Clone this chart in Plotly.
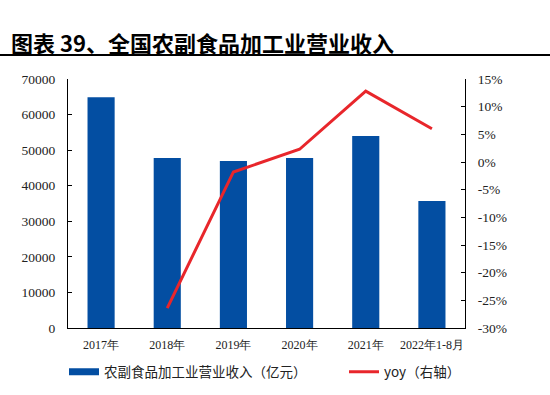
import plotly.graph_objects as go

categories = ["2017年", "2018年", "2019年", "2020年", "2021年", "2022年1-8月"]
revenue = [64900, 47800, 46950, 47800, 54000, 35700]
yoy_x = ["2018年", "2019年", "2020年", "2021年", "2022年1-8月"]
yoy = [-26.4, -1.8, 2.3, 12.8, 6.0]

left_ticks = list(range(0, 70001, 10000))
left_labels = [str(v) for v in left_ticks]
right_ticks = list(range(-30, 16, 5))
right_labels = [f"{v}%" for v in right_ticks]

BLUE = "#034EA2"
RED = "#E8262B"
SERIF = "Liberation Serif, Times New Roman, serif"
CJK = "Noto Sans CJK SC, sans-serif"

fig = go.Figure()
fig.add_trace(go.Bar(x=categories, y=revenue, marker=dict(color=BLUE, line=dict(width=0)),
                     width=0.41, showlegend=False, yaxis="y"))
fig.add_trace(go.Scatter(x=yoy_x, y=yoy, mode="lines", line=dict(color=RED, width=3),
                         showlegend=False, yaxis="y2"))
# legend entries
fig.add_trace(go.Scatter(x=[None], y=[None], mode="lines", line=dict(color=BLUE, width=7),
                         name="农副食品加工业营业收入（亿元）", legend="legend"))
fig.add_trace(go.Scatter(x=[None], y=[None], mode="lines", line=dict(color=RED, width=3),
                         name="yoy（右轴）", legend="legend2"))

PW = 550 - 68 - 85
PH = 328 - 79

def px_x(x):
    return (x - 68) / PW

def px_y(y):
    return (328 - y) / PH

legend_common = dict(orientation="h", xanchor="left", yanchor="middle",
                     font=dict(family=CJK, size=13.5, color="#222"), itemwidth=30,
                     bgcolor="rgba(0,0,0,0)")

fig.update_layout(
    width=550, height=395,
    margin=dict(l=68, r=85, t=79, b=67, autoexpand=False),
    plot_bgcolor="white", paper_bgcolor="white",
    xaxis=dict(type="category", showline=True, linecolor="black", linewidth=1, ticks="",
               tickfont=dict(family=SERIF, size=12, color="#222"), showgrid=False,
               ticklabelstandoff=6),
    yaxis=dict(range=[0, 70000], tickvals=left_ticks, ticktext=left_labels, showline=True,
               linecolor="black", linewidth=1, ticks="inside", ticklen=4, tickcolor="black",
               showgrid=False, zeroline=False, ticklabelstandoff=9,
               tickfont=dict(family=SERIF, size=13.5, color="#222")),
    yaxis2=dict(range=[-30, 15], tickvals=right_ticks, ticktext=right_labels, overlaying="y",
                side="right", showline=True, linecolor="black", linewidth=1, ticks="inside",
                ticklen=4, tickcolor="black", showgrid=False, zeroline=False, ticklabelstandoff=9,
                tickfont=dict(family=SERIF, size=13.5, color="#222")),
    legend=dict(x=px_x(64), y=px_y(372), **legend_common),
    legend2=dict(x=px_x(344), y=px_y(372), **legend_common),
    annotations=[dict(text="<b>图表 39、全国农副食品加工业营业收入</b>", xref="paper", yref="paper",
                      x=px_x(9), y=px_y(42), xanchor="left", yanchor="middle", showarrow=False,
                      font=dict(family=CJK, size=22, color="black"))],
    shapes=[dict(type="line", xref="paper", yref="paper", x0=px_x(0), x1=px_x(550),
                 y0=px_y(55), y1=px_y(55), line=dict(color="black", width=2))],
)
fig.write_html("out.html", config={"displayModeBar": False},
               post_script="document.body.style.margin='0px';document.body.style.overflow='hidden';")
